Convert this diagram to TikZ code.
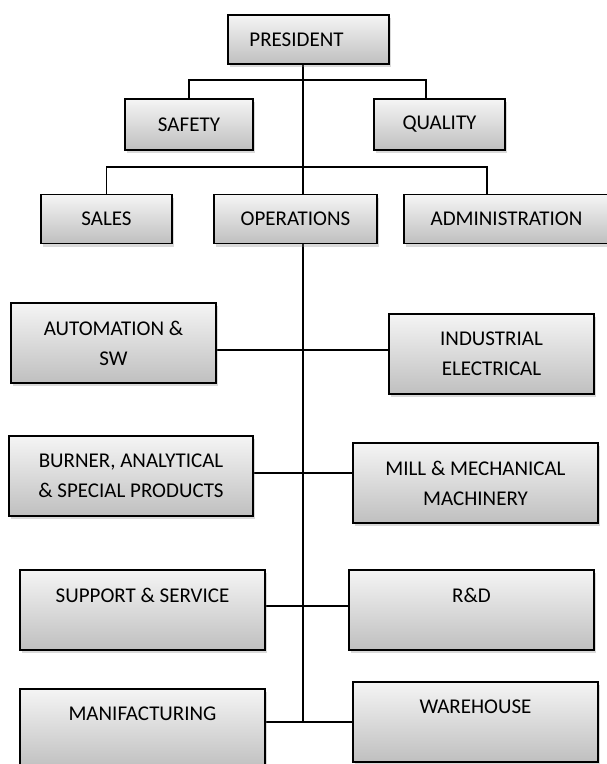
\documentclass[tikz,border=0pt]{standalone}
\usepackage{fontspec}
\setmainfont{Carlito}
\usetikzlibrary{shadows,backgrounds}

\begin{document}
\begin{tikzpicture}[x=1pt,y=-1pt,
        unit/.style={draw,line width=1.3pt,top color=gray!8,bottom color=gray!50,
          drop shadow={opacity=0.3,shadow xshift=2pt,shadow yshift=-3pt},
          align=center,inner sep=0pt,font=\fontsize{21}{30}\selectfont},
        low/.style={unit,minimum height=49pt},
        tall/.style={unit,minimum height=80pt},
        link/.style={line width=1.3pt}]

  \useasboundingbox (0,0) rectangle (606,764);

  \node[low,minimum width=161pt] (pres) at (308.5,39.5) {PRESIDENT\hspace{24pt}};
  \node[low,minimum width=128pt,minimum height=51pt] (saf) at (189,124.5) {SAFETY};
  \node[low,minimum width=131pt,minimum height=51pt] (qual) at (439.5,124.5) {QUALITY};
  \node[low,minimum width=131pt] (sal) at (106.5,219) {SALES};
  \node[low,minimum width=163pt] (ops) at (295.5,219) {OPERATIONS};
  \node[low,minimum width=205pt] (adm) at (506.5,219) {ADMINISTRATION};

  \node[tall,minimum width=205pt] (aut) at (113.5,343) {AUTOMATION \&\\SW};
  \node[tall,minimum width=205pt] (ind) at (491.5,354) {INDUSTRIAL\\ELECTRICAL};
  \node[tall,minimum width=244pt] (bur) at (131,476) {BURNER, ANALYTICAL\\\& SPECIAL PRODUCTS};
  \node[tall,minimum width=245pt] (mill) at (475.5,483) {MILL \& MECHANICAL\\MACHINERY};
  \node[tall,minimum width=245pt] (sup) at (142.5,610) {SUPPORT \& SERVICE\\\phantom{X}};
  \node[tall,minimum width=245pt] (rd) at (471.5,610) {R\&D\\\phantom{X}};
  \node[tall,minimum width=245pt] (man) at (142.5,729) {MANIFACTURING\\\phantom{X}};
  \node[tall,minimum width=245pt] (ware) at (475.5,722) {WAREHOUSE\\\phantom{X}};

  % junctions on the trunk
  \coordinate (j0) at (303,80);
  \coordinate (j1) at (303,167);
  \coordinate (j2) at (303,350);
  \coordinate (j3) at (303,473);
  \coordinate (j4) at (303,606);
  \coordinate (j5) at (303,722);
  \coordinate (q0) at (426,80);
  \coordinate (a0) at (487,167);

  \begin{scope}[on background layer]
    \draw[link] (pres.south -| j0) -- (j5);
    \draw[link] (saf.north) |- (q0) -- (qual.north -| q0);
    \draw[link] (sal.north) |- (a0) -- (adm.north -| a0);
    \draw[link] (aut.east |- j2) -- (ind.west |- j2);
    \draw[link] (bur.east |- j3) -- (mill.west |- j3);
    \draw[link] (sup.east |- j4) -- (rd.west |- j4);
    \draw[link] (man.east |- j5) -- (ware.west |- j5);
  \end{scope}

\end{tikzpicture}
\end{document}
